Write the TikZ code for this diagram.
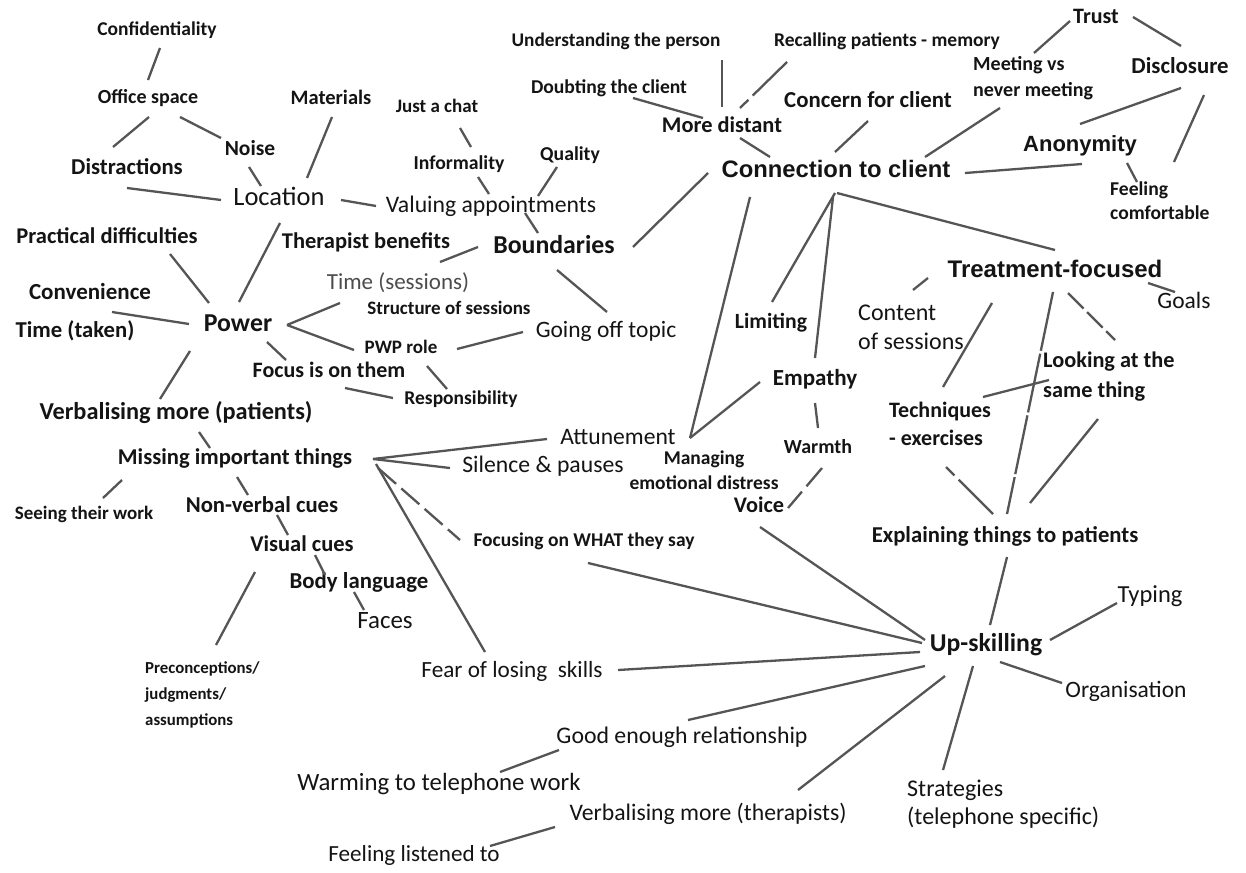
\documentclass[tikz,border=0pt]{standalone}
\usepackage{fontspec}
\setmainfont{Carlito}
\newfontfamily\arialfont{Liberation Sans}
\definecolor{ln}{RGB}{85,85,85}
\definecolor{tx}{RGB}{20,20,20}
\newcommand\fB[1]{\fontsize{#1}{#1}\selectfont\bfseries}
\newcommand\fR[1]{\fontsize{#1}{#1}\selectfont}
\newcommand\fA[1]{\arialfont\fontsize{#1}{#1}\selectfont\bfseries}
\newcommand\fBL[2]{\fontsize{#1}{#2}\selectfont\bfseries}
\newcommand\fRL[2]{\fontsize{#1}{#2}\selectfont}
\newcommand\lk[5][]{\draw[lnk,#1] ([shift={(#3)}]#2) -- ([shift={(#5)}]#4);}
\begin{document}
\begin{tikzpicture}[x=1pt,y=-1pt,
  t/.style={inner sep=0pt,text=tx,text height=0.7em,text depth=0.2em},
  ml/.style={inner sep=0pt,text=tx,align=left,anchor=west},
  lnk/.style={draw=ln,line width=2.3pt},
  dsh/.style={dash pattern=on 24pt off 7pt}]
\fill[white] (0,0) rectangle (1246,872);
\useasboundingbox (0,0) rectangle (1246,872);
% ---- nodes ----
\node[node font=\fB{19.5},t] (conf) at (157,31) {Confidentiality};
\node[node font=\fB{20},t] (office) at (148,99) {Office space};
\node[node font=\fB{20.5},t] (mat) at (331,99) {Materials};
\node[node font=\fB{19},t] (chat) at (437,108) {Just a chat};
\node[node font=\fB{21.5},t] (noise) at (250,150) {Noise};
\node[node font=\fB{22.7},t] (distr) at (127,169) {Distractions};
\node[node font=\fR{26.5},t] (loc) at (279,199) {Location};
\node[node font=\fB{19.7},t] (inform) at (459,165) {Informality};
\node[node font=\fB{19.7},t] (qual) at (570,156) {Quality};
\node[node font=\fR{23.7},t] (valu) at (491,207) {Valuing appointments};
\node[node font=\fB{22.5},t] (pract) at (107,238) {Practical difficulties};
\node[node font=\fB{22.5},t] (thera) at (366,243) {Therapist benefits};
\node[node font=\fB{25.8},t] (bound) at (554,247) {Boundaries};
\node[node font=\fR{23},t,text=black!70] (tsess) at (398,284) {Time (sessions)};
\node[node font=\fB{23},t] (conv) at (90,294) {Convenience};
\node[node font=\fB{19},t] (struct) at (449,310) {Structure of sessions};
\node[node font=\fB{25.8},t] (power) at (238,325) {Power};
\node[node font=\fB{22.7},t] (ttaken) at (75,332) {Time (taken)};
\node[node font=\fR{23.5},t] (goff) at (606,332) {Going off topic};
\node[node font=\fB{19},t] (pwp) at (401,349) {PWP role};
\node[node font=\fB{22},t] (focus) at (329,372) {Focus is on them};
\node[node font=\fB{19.5},t] (resp) at (461,400) {Responsibility};
\node[node font=\fB{24.3},t] (verbp) at (176,413) {Verbalising more (patients)};
\node[node font=\fB{22.6},t] (miss) at (235,459) {Missing important things};
\node[node font=\fB{19},t] (seeing) at (84,515) {Seeing their work};
\node[node font=\fB{22.7},t] (nonverb) at (262,507) {Non-verbal cues};
\node[node font=\fB{22.5},t] (visual) at (302,546) {Visual cues};
\node[node font=\fB{22.8},t] (body) at (359,583) {Body language};
\node[node font=\fR{24.9},t] (faces) at (385,622) {Faces};
\node[ml,font=\fBL{16.8}{26}] (precon) at (145,695) {Preconceptions/\\judgments/\\assumptions};
\node[node font=\fR{23.2},t] (fear) at (512,672) {Fear of losing\ \ skills};
\node[node font=\fR{23.8},t] (good) at (682,738) {Good enough relationship};
\node[node font=\fR{24.8},t] (warming) at (439,784) {Warming to telephone work};
\node[node font=\fR{23.7},t] (verbt) at (708,815) {Verbalising more (therapists)};
\node[node font=\fR{23.1},t] (listened) at (414,856) {Feeling listened to};
\node[ml,font=\fRL{24}{28}] (strat) at (907,804) {Strategies\\(telephone specific)};
\node[node font=\fB{25.7},t] (upsk) at (986,645) {Up-skilling};
\node[node font=\fR{24.5},t] (typing) at (1150,596) {Typing};
\node[node font=\fR{23.5},t] (organ) at (1126,692) {Organisation};
\node[node font=\fB{22.7},t] (explain) at (1005,537) {Explaining things to patients};
\node[ml,font=\fBL{22}{28}] (tech) at (889,424) {Techniques\\- exercises};
\node[ml,font=\fBL{22.3}{30}] (looking) at (1043,377) {Looking at the\\same thing};
\node[ml,font=\fRL{24}{29}] (content) at (858,327) {Content\\of sessions};
\node[node font=\fR{23.5},t] (goals) at (1184,303) {Goals};
\node[node font=\fA{24},t] (treat) at (1055,271) {Treatment-focused};
\node[node font=\fA{23.8},t] (conn) at (836,172) {Connection to client};
\node[node font=\fA{22},t] (anon) at (1080,146) {Anonymity};
\node[ml,font=\fBL{19.6}{24}] (feelc) at (1110,201) {Feeling\\comfortable};
\node[node font=\fB{22.8},t] (discl) at (1180,68) {Disclosure};
\node[node font=\fB{22},t] (trust) at (1096,18) {Trust};
\node[ml,font=\fBL{20}{26}] (meeting) at (973,78) {Meeting vs\\never meeting};
\node[node font=\fB{22.8},t] (concern) at (868,102) {Concern for client};
\node[node font=\fB{19.5},t] (recall) at (887,42) {Recalling patients - memory};
\node[node font=\fB{19.3},t] (under) at (616,42) {Understanding the person};
\node[node font=\fB{19.6},t] (doubt) at (609,89) {Doubting the client};
\node[node font=\fB{22.4},t] (distant) at (722,127) {More distant};
\node[node font=\fB{21.7},t] (limit) at (771,323) {Limiting};
\node[node font=\fB{23},t] (empathy) at (815,380) {Empathy};
\node[node font=\fB{20},t] (warmth) at (818,448) {Warmth};
\node[node font=\fR{23.6},t] (attune) at (618,439) {Attunement};
\node[inner sep=0pt,text=tx,align=center,font=\fBL{19.5}{25}] (manag) at (704,470) {Managing\\emotional distress};
\node[node font=\fR{23.7},t] (silence) at (543,467) {Silence \& pauses};
\node[node font=\fB{22.3},t] (voice) at (759,507) {Voice};
\node[node font=\fB{19.5},t] (focusw) at (584,542) {Focusing on WHAT they say};
% ---- connectors ----
\lk{conf.center}{3,17}{office.center}{0,-19}
\lk{office.center}{1,18}{distr.center}{-14,-22}
\lk{office.center}{32,18}{noise.center}{-29,-12}
\lk{noise.center}{-1,17}{loc.center}{-18,-13}
\lk{mat.center}{1,18}{loc.center}{28,-21}
\lk{distr.center}{0,19}{loc.center}{-58,1}
\lk{loc.center}{62,1}{valu.center}{-115,-1}
\lk{loc.center}{1,24}{power.center}{1,-23}
\lk{pract.center}{63,16}{power.center}{-29,-22}
\lk{conv.center}{22,18}{power.center}{-49,-1}
\lk{power.center}{49,0}{tsess.center}{-58,19}
\lk{power.center}{49,0}{pwp.center}{-47,1}
\lk{power.center}{29,17}{focus.center}{-43,-12}
\lk{power.center}{-48,26}{verbp.center}{-16,-14}
\lk{focus.center}{16,16}{resp.center}{-68,-2}
\lk{pwp.center}{26,17}{resp.center}{-14,-11}
\lk{pwp.center}{56,0}{goff.center}{-83,0}
\lk{bound.center}{3,23}{goff.center}{1,-20}
\lk{bound.center}{-76,0}{thera.center}{74,19}
\lk{bound.center}{-16,-14}{valu.center}{34,6}
\lk{valu.center}{-2,-13}{inform.center}{19,12}
\lk{valu.center}{47,-11}{qual.center}{-13,11}
\lk{inform.center}{12,-18}{chat.center}{23,20}
\lk{bound.center}{79,0}{conn.center}{-128,1}
\lk{distant.center}{-19,-9}{doubt.center}{24,9}
\lk{distant.center}{0,-20}{under.center}{106,18}
\lk[dash pattern=on 48pt off 6pt]{recall.center}{-100,20}{distant.center}{18,-19}
\lk{distant.center}{18,11}{conn.center}{-66,-15}
\lk{concern.center}{0,19}{conn.center}{-1,-20}
\lk{meeting.west}{27,30}{conn.center}{89,-15}
\lk{meeting.west}{61,-25}{trust.center}{-26,3}
\lk{trust.center}{37,-1}{discl.center}{1,-22}
\lk{discl.center}{1,20}{anon.center}{0,-22}
\lk{discl.center}{24,27}{feelc.west}{64,-39}
\lk{anon.center}{47,17}{feelc.west}{27,-19}
\lk{anon.center}{2,18}{conn.center}{129,1}
\lk{conn.center}{1,21}{treat.center}{0,-21}
\lk{conn.center}{-1,21}{limit.center}{1,-21}
\lk{conn.center}{-3,25}{empathy.center}{0,-22}
\lk{conn.center}{-86,25}{attune.center}{72,-1}
\lk{attune.center}{72,-1}{empathy.center}{-55,2}
\lk{empathy.center}{0,23}{warmth.center}{0,-20}
\lk[dsh]{warmth.center}{4,20}{voice.center}{29,1}
\lk{voice.center}{1,20}{upsk.center}{-61,-5}
\lk{focusw.center}{4,21}{upsk.center}{-64,-2}
\lk{miss.center}{138,0}{attune.center}{-71,0}
\lk{miss.center}{138,0}{silence.center}{-93,1}
\lk[dsh]{miss.center}{143,9}{focusw.center}{-124,-2}
\lk{miss.center}{141,5}{fear.center}{-27,-20}
\lk{verbp.center}{23,19}{miss.center}{-25,-11}
\lk{miss.center}{-113,21}{seeing.center}{19,-17}
\lk{miss.center}{2,18}{nonverb.center}{-14,-12}
\lk{nonverb.center}{15,8}{visual.center}{-14,-11}
\lk{visual.center}{13,9}{body.center}{-34,-8}
\lk{body.center}{-5,9}{faces.center}{-21,-12}
\lk{visual.center}{-47,26}{precon.west}{71,-50}
\lk{explain.center}{2,20}{upsk.center}{4,-20}
\lk[dash pattern=on 60pt off 3pt]{treat.center}{-2,21}{explain.center}{2,-23}
\lk[dash pattern=on 22pt off 5pt]{treat.center}{13,22}{looking.west}{72,-37}
\lk{treat.center}{93,12}{goals.center}{-9,-11}
\lk{treat.center}{-127,7}{content.west}{55,-37}
\lk{treat.center}{-63,32}{tech.west}{54,-37}
\lk{tech.west}{94,-27}{looking.west}{6,3}
\lk[dash pattern=on 12pt off 6pt on 60pt]{tech.west}{57,43}{explain.center}{-12,-23}
\lk{looking.west}{55,42}{explain.center}{25,-34}
\lk{upsk.center}{64,-5}{typing.center}{-33,7}
\lk{upsk.center}{14,17}{organ.center}{-64,-9}
\lk{upsk.center}{-13,21}{strat.west}{36,-34}
\lk{upsk.center}{-41,31}{verbt.center}{90,-25}
\lk{upsk.center}{-61,21}{good.center}{6,-18}
\lk{upsk.center}{-66,7}{fear.center}{106,-2}
\lk{good.center}{-123,12}{warming.center}{61,-12}
\lk{verbt.center}{-153,12}{listened.center}{76,-10}
\end{tikzpicture}
\end{document}
